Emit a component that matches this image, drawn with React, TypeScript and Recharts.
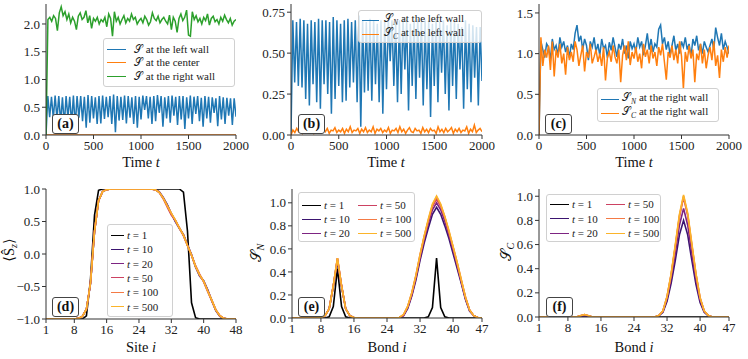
import React from "react";
import { LineChart, Line, XAxis, YAxis } from "recharts";

const SERIF = "'Liberation Serif', 'DejaVu Serif', serif";
const AX = "#333";
const BLUE = "#1f77b4";
const ORANGE = "#ff7f0e";
const GREEN = "#2ca02c";

// ---- top row: time series, sampled evenly over t = 0..2000 ----
// left wall, S_N (also drawn as S in panel a, the two overlap)
const leftWallN = [
  0,
  0.70, 0.32, 0.69, 0.30, 0.71, 0.29, 0.70, 0.22, 0.68, 0.18, 0.70, 0.31, 0.69, 0.20, 0.71, 0.16, 0.70, 0.31, 0.70, 0.25,
  0.69, 0.13, 0.72, 0.22, 0.70, 0.30, 0.68, 0.20, 0.70, 0.21, 0.71, 0.29, 0.69, 0.32, 0.70, 0.20, 0.73, 0.05, 0.70, 0.26,
  0.69, 0.27, 0.71, 0.21, 0.70, 0.31, 0.68, 0.20, 0.70, 0.13, 0.69, 0.28, 0.71, 0.45, 0.70, 0.30, 0.69, 0.20, 0.70, 0.25,
  0.72, 0.40, 0.70, 0.15, 0.68, 0.30, 0.70, 0.22, 0.71, 0.35, 0.69, 0.18, 0.70, 0.28, 0.70, 0.11, 0.68, 0.30, 0.71, 0.20,
  0.69, 0.38, 0.70, 0.25, 0.67, 0.15, 0.70, 0.30, 0.69, 0.22, 0.68, 0.40, 0.66, 0.16, 0.70, 0.28, 0.68, 0.20, 0.67, 0.35,
  0.66, 0.18, 0.66, 0.33,
];
const leftWallC = [
  0, 0.03, 0.015, 0.04, 0.02, 0.035, 0.01, 0.03, 0.045, 0.015, 0.025, 0.04, 0.01, 0.03, 0.02, 0.05, 0.015, 0.035, 0.02, 0.04,
  0.01, 0.03, 0.025, 0.045, 0.015, 0.03, 0.02, 0.04, 0.01, 0.035, 0.02, 0.05, 0.015, 0.03, 0.025, 0.04, 0.01, 0.035, 0.02, 0.045,
  0.015, 0.03, 0.02, 0.05, 0.01, 0.035, 0.025, 0.04, 0.015, 0.03, 0.02, 0.045, 0.01, 0.03, 0.025, 0.04, 0.015, 0.05, 0.02, 0.035,
  0.01, 0.03, 0.045, 0.02, 0.015, 0.04, 0.025, 0.03, 0.01, 0.045, 0.02, 0.035, 0.015, 0.04, 0.025, 0.03, 0.01, 0.05, 0.02, 0.035,
  0.015, 0.04, 0.02, 0.03, 0.045, 0.01, 0.035, 0.02, 0.04, 0.015, 0.03, 0.025, 0.05, 0.01, 0.035, 0.02, 0.06, 0.015, 0.03, 0.04, 0.02,
];
const centerS = [0, 0, 0, 0, 0, 0, 0, 0, 0, 0, 0];
const rightWallS = [
  0, 2.08, 2.12, 2.05, 2.15, 2.10, 1.88, 2.20, 2.31, 2.15, 2.22, 2.08, 2.18, 2.02, 2.12, 2.05, 1.90, 2.14, 2.20, 2.08,
  2.12, 2.24, 2.02, 2.15, 1.92, 2.10, 2.05, 2.12, 2.00, 2.08, 2.04, 2.12, 1.95, 2.18, 2.10, 1.78, 2.22, 2.05, 2.12, 2.00,
  2.08, 2.15, 2.02, 2.10, 2.05, 2.18, 2.08, 2.12, 2.00, 2.06, 2.10, 2.02, 2.14, 2.08, 1.98, 2.04, 2.20, 2.10, 2.06, 2.14,
  2.02, 2.08, 2.12, 2.05, 2.00, 2.16, 1.90, 2.12, 2.05, 1.85, 2.10, 2.18, 2.06, 2.12, 2.25, 1.80, 1.78, 2.22, 2.08, 2.15,
  2.04, 2.10, 2.00, 2.12, 2.06, 2.18, 1.98, 2.10, 2.14, 2.04, 2.08, 2.00, 2.12, 2.05, 2.16, 2.08, 2.02, 2.10, 1.98, 2.05, 2.08,
];
const rightWallN = [
  0, 1.15, 1.05, 0.95, 1.12, 1.08, 0.92, 1.18, 1.05, 1.10, 0.98, 1.20, 1.08, 1.15, 1.02, 1.10, 0.95, 1.12, 1.05, 1.25,
  1.35, 1.15, 1.22, 1.05, 1.18, 1.10, 0.92, 1.15, 1.08, 1.20, 1.02, 1.12, 0.98, 1.18, 1.06, 1.10, 0.95, 1.14, 1.04, 1.20,
  1.08, 0.96, 1.12, 1.05, 1.18, 1.00, 1.10, 0.94, 1.15, 1.06, 1.12, 1.02, 1.20, 1.08, 1.15, 0.98, 1.10, 1.25, 1.05, 1.18,
  1.02, 1.12, 1.08, 1.30, 1.35, 1.12, 1.20, 1.05, 1.15, 0.98, 1.10, 1.22, 1.04, 1.12, 1.00, 1.15, 1.08, 1.20, 1.05, 1.12,
  0.96, 1.18, 1.10, 1.22, 1.04, 1.12, 1.00, 1.15, 1.08, 1.02, 1.10, 1.18, 1.05, 1.32, 1.20, 1.10, 1.25, 1.05, 1.15, 1.08, 1.00,
];
const rightWallC = [
  0, 1.20, 0.85, 1.05, 0.95, 1.10, 0.80, 1.15, 0.72, 1.05, 0.95, 1.12, 0.88, 1.00, 0.74, 1.08, 0.92, 1.02, 0.90, 1.15,
  1.05, 0.85, 0.98, 1.10, 0.78, 1.02, 0.95, 1.12, 0.88, 0.96, 1.05, 0.90, 1.00, 0.85, 1.08, 0.67, 0.95, 1.02, 0.90, 1.10,
  0.96, 0.88, 1.05, 0.65, 0.98, 1.10, 0.92, 1.15, 0.86, 1.02, 0.94, 1.08, 0.90, 1.00, 0.82, 1.12, 0.96, 1.05, 0.88, 1.10,
  0.94, 1.02, 0.85, 1.08, 0.98, 1.12, 0.90, 0.68, 1.02, 0.95, 1.10, 0.92, 1.05, 0.88, 1.15, 0.97, 0.57, 1.02, 0.90, 1.10,
  0.94, 1.05, 0.65, 1.00, 0.92, 1.12, 0.88, 1.05, 0.82, 0.98, 1.08, 0.92, 1.15, 0.85, 0.98, 0.70, 1.05, 0.90, 1.08, 0.95, 1.10,
];
const timeTicks = [0, 500, 1000, 1500, 2000];

// ---- bottom row: profiles along the chain ----
const timeLabels = ["1", "10", "20", "50", "100", "500"];
const timeColors = ["#000000", "#3b1470", "#7d2482", "#cc4262", "#f47a45", "#fbb42a"];

const sites = [
  1, 2, 3, 4, 5, 6, 7, 8, 9, 10, 11, 12, 13, 14, 15, 16, 17, 18, 19, 20, 21, 22, 23, 24,
  25, 26, 27, 28, 29, 30, 31, 32, 33, 34, 35, 36, 37, 38, 39, 40, 41, 42, 43, 44, 45, 46, 47, 48,
];
const siteTicks = [1, 8, 16, 24, 32, 40, 48];
const sz1 = [
  -1, -1, -1, -1, -1, -1, -1, -1, -1, -1, -0.95, -0.4, 0.6, 0.98, 1, 1, 1, 1, 1, 1, 1, 1, 1, 1,
  1, 1, 1, 1, 1, 1, 1, 1, 1, 1, 0.95, 0.35, -0.75, -0.98, -1, -1, -1, -1, -1, -1, -1, -1, -1, -1,
];
const sz10 = [
  -1, -1, -1, -1, -1, -1, -1, -1, -0.99, -0.96, -0.85, -0.46, 0.34, 0.82, 0.96, 0.99, 1, 1, 1, 1, 1, 1, 1, 1,
  1, 1, 1, 0.99, 0.96, 0.87, 0.76, 0.62, 0.5, 0.39, 0.3, 0.14, -0.01, -0.2, -0.34, -0.41, -0.55, -0.72, -0.87, -0.96, -0.99, -1, -1, -1,
];
const sz20 = [
  -1, -1, -1, -1, -1, -1, -1, -1, -0.99, -0.96, -0.85, -0.45, 0.35, 0.82, 0.96, 0.99, 1, 1, 1, 1, 1, 1, 1, 1,
  1, 1, 1, 0.99, 0.95, 0.86, 0.75, 0.62, 0.51, 0.4, 0.29, 0.13, -0.02, -0.2, -0.33, -0.42, -0.56, -0.71, -0.86, -0.95, -0.99, -1, -1, -1,
];
const sz50 = [
  -1, -1, -1, -1, -1, -1, -1, -1, -0.99, -0.96, -0.85, -0.45, 0.35, 0.82, 0.96, 0.99, 1, 1, 1, 1, 1, 1, 1, 1,
  1, 1, 1, 0.99, 0.95, 0.85, 0.72, 0.6, 0.52, 0.4, 0.28, 0.13, -0.02, -0.18, -0.31, -0.43, -0.58, -0.72, -0.86, -0.95, -0.99, -1, -1, -1,
];
const sz100 = [
  -1, -1, -1, -1, -1, -1, -1, -1, -0.99, -0.96, -0.85, -0.45, 0.35, 0.82, 0.96, 0.99, 1, 1, 1, 1, 1, 1, 1, 1,
  1, 1, 1, 0.99, 0.95, 0.86, 0.74, 0.62, 0.52, 0.4, 0.29, 0.13, -0.02, -0.19, -0.32, -0.42, -0.57, -0.71, -0.86, -0.95, -0.99, -1, -1, -1,
];
const sz500 = [
  -1, -1, -1, -1, -1, -1, -1, -1, -0.99, -0.96, -0.85, -0.45, 0.35, 0.82, 0.96, 0.99, 1, 1, 1, 1, 1, 1, 1, 1,
  1, 1, 1, 0.99, 0.95, 0.86, 0.74, 0.63, 0.52, 0.4, 0.29, 0.13, -0.02, -0.19, -0.32, -0.42, -0.57, -0.71, -0.86, -0.95, -0.99, -1, -1, -1,
];

const bonds = [
  1, 2, 3, 4, 5, 6, 7, 8, 9, 10, 11, 12, 13, 14, 15, 16, 17, 18, 19, 20, 21, 22, 23, 24,
  25, 26, 27, 28, 29, 30, 31, 32, 33, 34, 35, 36, 37, 38, 39, 40, 41, 42, 43, 44, 45, 46, 47,
];
const bondTicks = [1, 8, 16, 24, 32, 40, 47];
const sn1 = [
  0, 0, 0, 0, 0, 0, 0, 0, 0, 0.01, 0.1, 0.43, 0.1, 0.01, 0, 0, 0, 0, 0, 0, 0, 0, 0, 0,
  0, 0, 0, 0, 0, 0, 0, 0, 0, 0.01, 0.09, 0.52, 0.09, 0.01, 0, 0, 0, 0, 0, 0, 0, 0, 0,
];
const sn10 = [
  0, 0, 0, 0, 0, 0, 0, 0.005, 0.02, 0.08, 0.27, 0.49, 0.27, 0.08, 0.02, 0.005, 0, 0, 0, 0, 0, 0, 0, 0,
  0, 0, 0.005, 0.02, 0.08, 0.19, 0.33, 0.5, 0.65, 0.78, 0.9, 0.96, 0.9, 0.8, 0.69, 0.56, 0.43, 0.3, 0.16, 0.06, 0.02, 0.005, 0,
];
const sn20 = [
  0, 0, 0, 0, 0, 0, 0, 0.005, 0.02, 0.08, 0.28, 0.51, 0.28, 0.08, 0.02, 0.005, 0, 0, 0, 0, 0, 0, 0, 0,
  0, 0, 0.005, 0.02, 0.09, 0.2, 0.35, 0.52, 0.68, 0.82, 0.94, 1.0, 0.94, 0.84, 0.72, 0.59, 0.45, 0.31, 0.17, 0.065, 0.02, 0.005, 0,
];
const sn50 = [
  0, 0, 0, 0, 0, 0, 0, 0.005, 0.02, 0.08, 0.28, 0.52, 0.28, 0.08, 0.02, 0.005, 0, 0, 0, 0, 0, 0, 0, 0,
  0, 0, 0.005, 0.025, 0.095, 0.21, 0.36, 0.54, 0.7, 0.84, 0.97, 1.03, 0.97, 0.87, 0.74, 0.61, 0.47, 0.32, 0.18, 0.07, 0.02, 0.005, 0,
];
const sn100 = [
  0, 0, 0, 0, 0, 0, 0, 0.005, 0.02, 0.08, 0.28, 0.52, 0.28, 0.08, 0.02, 0.005, 0, 0, 0, 0, 0, 0, 0, 0,
  0, 0, 0.005, 0.03, 0.1, 0.22, 0.37, 0.55, 0.71, 0.85, 0.98, 1.05, 0.98, 0.88, 0.75, 0.62, 0.48, 0.33, 0.18, 0.07, 0.02, 0.005, 0,
];
const sn500 = [
  0, 0, 0, 0, 0, 0, 0, 0.005, 0.02, 0.08, 0.28, 0.52, 0.28, 0.08, 0.02, 0.005, 0, 0, 0, 0, 0, 0, 0, 0,
  0, 0, 0.005, 0.03, 0.1, 0.22, 0.37, 0.55, 0.71, 0.86, 0.99, 1.06, 0.99, 0.88, 0.76, 0.62, 0.48, 0.33, 0.18, 0.07, 0.02, 0.005, 0,
];

const sc1 = [
  0, 0, 0, 0, 0, 0, 0, 0, 0, 0, 0, 0, 0, 0, 0, 0, 0, 0, 0, 0, 0, 0, 0, 0,
  0, 0, 0, 0, 0, 0, 0, 0, 0, 0, 0, 0, 0, 0, 0, 0, 0, 0, 0, 0, 0, 0, 0,
];
const sc10 = [
  0, 0, 0, 0, 0, 0, 0, 0, 0, 0, 0.005, 0.01, 0.005, 0, 0, 0, 0, 0, 0, 0, 0, 0, 0, 0,
  0, 0, 0, 0, 0, 0.01, 0.04, 0.13, 0.28, 0.47, 0.68, 0.8, 0.68, 0.47, 0.27, 0.12, 0.04, 0.01, 0, 0, 0, 0, 0,
];
const sc20 = [
  0, 0, 0, 0, 0, 0, 0, 0, 0, 0, 0.008, 0.015, 0.008, 0, 0, 0, 0, 0, 0, 0, 0, 0, 0, 0,
  0, 0, 0, 0, 0, 0.01, 0.045, 0.15, 0.32, 0.53, 0.76, 0.9, 0.76, 0.53, 0.31, 0.14, 0.045, 0.01, 0, 0, 0, 0, 0,
];
const sc50 = [
  0, 0, 0, 0, 0, 0, 0, 0, 0, 0, 0.01, 0.02, 0.01, 0, 0, 0, 0, 0, 0, 0, 0, 0, 0, 0,
  0, 0, 0, 0, 0, 0.012, 0.05, 0.165, 0.35, 0.58, 0.83, 0.99, 0.84, 0.59, 0.35, 0.155, 0.05, 0.012, 0, 0, 0, 0, 0,
];
const sc100 = [
  0, 0, 0, 0, 0, 0, 0, 0, 0, 0, 0.01, 0.02, 0.01, 0, 0, 0, 0, 0, 0, 0, 0, 0, 0, 0,
  0, 0, 0, 0, 0, 0.012, 0.05, 0.17, 0.355, 0.59, 0.84, 1.0, 0.85, 0.6, 0.355, 0.16, 0.05, 0.012, 0, 0, 0, 0, 0,
];
const sc500 = [
  0, 0, 0, 0, 0, 0, 0, 0, 0, 0, 0.01, 0.02, 0.01, 0, 0, 0, 0, 0, 0, 0, 0, 0, 0, 0,
  0, 0, 0, 0, 0, 0.012, 0.05, 0.17, 0.36, 0.6, 0.85, 1.01, 0.86, 0.61, 0.36, 0.16, 0.05, 0.012, 0, 0, 0, 0, 0,
];

const withTime = (vals: number[]) =>
  vals.map((v, i) => ({ t: (i * 2000) / (vals.length - 1), v }));

const profileRows = (xs: number[], series: number[][]) =>
  xs.map((x, i) => {
    const row: any = { x };
    series.forEach((s, k) => (row["t" + timeLabels[k]] = s[i]));
    return row;
  });

const szRows = profileRows(sites, [sz1, sz10, sz20, sz50, sz100, sz500]);
const snRows = profileRows(bonds, [sn1, sn10, sn20, sn50, sn100, sn500]);
const scRows = profileRows(bonds, [sc1, sc10, sc20, sc50, sc100, sc500]);

// layout of the six axes boxes
const ML = 50, MT = 6, MR = 24, MB = 40;
const tickStyle = { fontSize: 13, fill: "#222", fontFamily: SERIF };
const minus = (s: string) => s.replace("-", "\u2212");

function Frame({ rect, data, xKey, xDomain, xTicks, yDomain, yTicks, yFmt, children }: any) {
  return (
    <div style={{ position: "absolute", left: rect.x - ML, top: rect.y - MT, fontFamily: SERIF }}>
      <LineChart
        width={rect.w + ML + MR}
        height={rect.h + MT + MB}
        data={data}
        margin={{ top: MT, right: MR, bottom: 0, left: 0 }}
        style={{ overflow: "visible", fontFamily: SERIF }}
      >
        <XAxis
          type="number"
          dataKey={xKey}
          domain={xDomain}
          ticks={xTicks}
          interval={0}
          height={MB}
          tickSize={4}
          tickLine={{ stroke: AX }}
          axisLine={{ stroke: AX }}
          tick={tickStyle}
          allowDataOverflow
        />
        <XAxis xAxisId="top" orientation="top" type="number" dataKey={xKey} domain={xDomain} height={0} tick={false} tickLine={false} axisLine={{ stroke: AX }} />
        <YAxis
          type="number"
          domain={yDomain}
          ticks={yTicks}
          interval={0}
          width={ML}
          tickSize={4}
          tickLine={{ stroke: AX }}
          axisLine={{ stroke: AX }}
          tick={tickStyle}
          tickFormatter={(v: number) => minus(yFmt(v))}
          allowDataOverflow
        />
        <YAxis yAxisId="right" orientation="right" type="number" domain={yDomain} width={0} tick={false} tickLine={false} axisLine={{ stroke: AX }} />
        {children}
      </LineChart>
    </div>
  );
}

function LegendBox({ left, top, width, height, items, cols = 1, colW = 0, padTop = 10, rowH = 14, handle = 19, gap = 4 }: any) {
  const perCol = Math.ceil(items.length / cols);
  return (
    <div
      style={{
        position: "absolute", left, top, width, height, boxSizing: "border-box",
        background: "rgba(255,255,255,0.8)", border: "1px solid #d0d0d0", borderRadius: 3,
        fontFamily: SERIF, fontSize: 11, color: "#222",
      }}
    >
      {items.map((it: any, i: number) => {
        const c = Math.floor(i / perCol);
        const r = i % perCol;
        return (
          <div key={i} style={{ position: "absolute", left: 3 + c * colW, top: padTop + r * rowH - 7, height: 14, display: "flex", alignItems: "center", whiteSpace: "nowrap" }}>
            <span style={{ width: handle, height: 0, borderTop: `1.6px solid ${it.color}`, marginRight: gap }} />
            <span>{it.label}</span>
          </div>
        );
      })}
    </div>
  );
}

function Tag({ left, top, text }: any) {
  return (
    <div
      style={{
        position: "absolute", left, top, width: 27, height: 20, boxSizing: "border-box",
        border: "1px solid #444", borderRadius: 3, background: "#fff",
        fontFamily: SERIF, fontWeight: 700, fontSize: 14, lineHeight: "18px", textAlign: "center", color: "#111",
      }}
    >
      {text}
    </div>
  );
}

function Title({ cx, cy, rotate, children, size = 14.5 }: any) {
  return (
    <div
      style={{
        position: "absolute", left: cx, top: cy, whiteSpace: "nowrap",
        transform: `translate(-50%, -50%)${rotate ? " rotate(-90deg)" : ""}`,
        fontFamily: SERIF, fontSize: size, color: "#111",
      }}
    >
      {children}
    </div>
  );
}

const CS = "\u{1D4AE}";
const Sub = ({ c }: any) => <sub style={{ fontSize: "0.7em", fontStyle: "italic" }}>{c}</sub>;

const tLegend = timeLabels.map((l, i) => ({
  color: timeColors[i],
  label: <span><i>t</i> = {l}</span>,
}));

const rA = { x: 46, y: 4, w: 190, h: 131 };
const rB = { x: 291, y: 4, w: 191, h: 131 };
const rC = { x: 539, y: 4, w: 190, h: 131 };
const rD = { x: 46, y: 189, w: 190, h: 130 };
const rE = { x: 292, y: 189, w: 190, h: 129 };
const rF = { x: 539, y: 189, w: 190, h: 128 };

const f1 = (v: number) => v.toFixed(1);
const f2 = (v: number) => v.toFixed(2);

function timeLine(vals: number[], color: string, key: string) {
  return (
    <Line key={key} data={withTime(vals)} dataKey="v" type="linear" stroke={color} strokeWidth={1.5} dot={false} isAnimationActive={false} />
  );
}

export default function App() {
  const profileLines = timeLabels.map((l, i) => (
    <Line key={l} dataKey={"t" + l} type="linear" stroke={timeColors[i]} strokeWidth={1.6} dot={false} isAnimationActive={false} />
  ));
  return (
    <div style={{ position: "absolute", left: 0, top: 0, width: 748, height: 359, background: "#fff", fontFamily: SERIF }}>
      {/* (a) */}
      <Frame rect={rA} xKey="t" xDomain={[0, 2000]} xTicks={timeTicks} yDomain={[0, 2.36]} yTicks={[0, 0.5, 1, 1.5, 2]} yFmt={f1}>
        {timeLine(leftWallN, BLUE, "a1")}
        {timeLine(centerS, ORANGE, "a2")}
        {timeLine(rightWallS, GREEN, "a3")}
      </Frame>
      {/* (b) */}
      <Frame rect={rB} xKey="t" xDomain={[0, 2000]} xTicks={timeTicks} yDomain={[0, 0.8]} yTicks={[0, 0.25, 0.5, 0.75]} yFmt={f2}>
        {timeLine(leftWallN, BLUE, "b1")}
        {timeLine(leftWallC, ORANGE, "b2")}
      </Frame>
      {/* (c) */}
      <Frame rect={rC} xKey="t" xDomain={[0, 2000]} xTicks={timeTicks} yDomain={[0, 1.61]} yTicks={[0, 0.5, 1, 1.5]} yFmt={f1}>
        {timeLine(rightWallN, BLUE, "c1")}
        {timeLine(rightWallC, ORANGE, "c2")}
      </Frame>
      {/* (d) */}
      <Frame rect={rD} data={szRows} xKey="x" xDomain={[1, 48]} xTicks={siteTicks} yDomain={[-1, 1]} yTicks={[-1, -0.5, 0, 0.5, 1]} yFmt={f1}>
        {profileLines}
      </Frame>
      {/* (e) */}
      <Frame rect={rE} data={snRows} xKey="x" xDomain={[1, 47]} xTicks={bondTicks} yDomain={[0, 1.12]} yTicks={[0, 0.2, 0.4, 0.6, 0.8, 1]} yFmt={f1}>
        {profileLines}
      </Frame>
      {/* (f) */}
      <Frame rect={rF} data={scRows} xKey="x" xDomain={[1, 47]} xTicks={bondTicks} yDomain={[0, 1.06]} yTicks={[0, 0.2, 0.4, 0.6, 0.8, 1]} yFmt={f1}>
        {profileLines}
      </Frame>

      <Title cx={141} cy={162}>Time <i>t</i></Title>
      <Title cx={386} cy={162}>Time <i>t</i></Title>
      <Title cx={634} cy={162}>Time <i>t</i></Title>
      <Title cx={141} cy={347}>Site <i>i</i></Title>
      <Title cx={387} cy={347}>Bond <i>i</i></Title>
      <Title cx={634} cy={347}>Bond <i>i</i></Title>
      <Title cx={10} cy={250} rotate>{"\u27E8"}{"\u015C"}<Sub c="z" />{"\u27E9"}</Title>
      <Title cx={257} cy={253} rotate>{CS}<Sub c="N" /></Title>
      <Title cx={507} cy={252} rotate>{CS}<Sub c="C" /></Title>

      <LegendBox left={103} top={38} width={132} height={49} padTop={10} rowH={13.5} gap={8}
        items={[
          { color: BLUE, label: <span>{CS} at the left wall</span> },
          { color: ORANGE, label: <span>{CS} at the center</span> },
          { color: GREEN, label: <span>{CS} at the right wall</span> },
        ]} />
      <LegendBox left={358} top={10} width={124} height={33} padTop={9} rowH={14} handle={17} gap={5}
        items={[
          { color: BLUE, label: <span>{CS}<Sub c="N" /> at the left wall</span> },
          { color: ORANGE, label: <span>{CS}<Sub c="C" /> at the left wall</span> },
        ]} />
      <LegendBox left={597} top={88} width={122} height={34} padTop={10} rowH={14} handle={18} gap={3}
        items={[
          { color: BLUE, label: <span>{CS}<Sub c="N" /> at the right wall</span> },
          { color: ORANGE, label: <span>{CS}<Sub c="C" /> at the right wall</span> },
        ]} />
      <LegendBox left={107} top={224} width={66} height={93} padTop={10} rowH={14.3} handle={13} gap={3} items={tLegend} />
      <LegendBox left={298} top={192} width={117} height={50} cols={2} colW={56} padTop={12} rowH={14} handle={19} gap={3} items={tLegend} />
      <LegendBox left={546} top={194} width={115} height={48} cols={2} colW={56} padTop={9} rowH={14.5} handle={19} gap={3} items={tLegend} />

      <Tag left={52} top={114} text="(a)" />
      <Tag left={298} top={114} text="(b)" />
      <Tag left={545} top={114} text="(c)" />
      <Tag left={52} top={297} text="(d)" />
      <Tag left={298} top={297} text="(e)" />
      <Tag left={546} top={297} text="(f)" />
    </div>
  );
}
